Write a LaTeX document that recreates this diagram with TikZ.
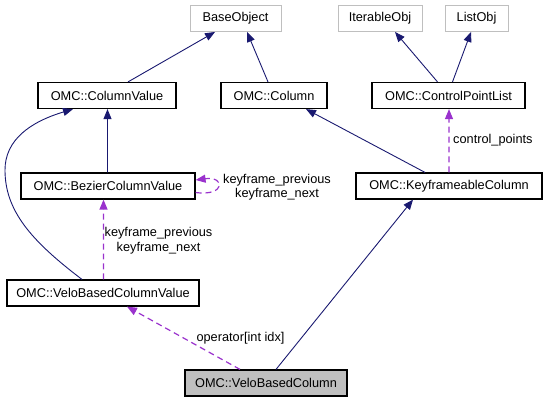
\documentclass[tikz,border=0pt]{standalone}
\usepackage{fontspec}
\setmainfont{Liberation Sans}
\usetikzlibrary{arrows.meta,calc}
\definecolor{navy}{RGB}{25,25,112}
\definecolor{orchid}{RGB}{154,50,205}
\definecolor{lgray}{RGB}{191,191,191}
\begin{document}
\begin{tikzpicture}[x=1bp,y=-1bp,
  every node/.style={font=\fontsize{12.8}{14.5}\selectfont},
  cls/.style={draw=black, line width=1.2pt, inner sep=0pt, minimum height=26bp, anchor=center},
  ext/.style={draw=lgray, line width=0.9pt, inner sep=0pt, minimum height=26bp, anchor=center},
  inh/.style={navy, line width=0.9pt, -{Triangle[length=10pt,width=8pt]}},
  use/.style={orchid, line width=1.2pt, dash pattern=on 6pt off 4pt, -{Triangle[length=10pt,width=8pt]}},
  lbl/.style={align=center, inner sep=0pt}]
\useasboundingbox (0,0) rectangle (547,402);
\node[ext, minimum width=91bp] (base) at (235.5,18.5) {BaseObject};
\node[ext, minimum width=84bp] (iter) at (380,18.5) {IterableObj};
\node[ext, minimum width=63bp] (list) at (476.5,18.5) {ListObj};
\node[cls, minimum width=138bp] (cv) at (107,95.5) {OMC::ColumnValue};
\node[cls, minimum width=106bp] (col) at (274,95.5) {OMC::Column};
\node[cls, minimum width=153bp] (cpl) at (448.5,95.5) {OMC::ControlPointList};
\node[cls, minimum width=174bp] (bez) at (108,186) {OMC::BezierColumnValue};
\node[cls, minimum width=186bp] (kc) at (449,186) {OMC::KeyframeableColumn};
\node[cls, minimum width=192bp] (vbcv) at (103,293) {OMC::VeloBasedColumnValue};
\node[cls, fill=lgray, minimum width=162bp] (vbc) at (266,383) {OMC::VeloBasedColumn};
% inheritance
\draw[inh] ($(cv.north)+(21,0)$) -- ($(base.south)+(-20.5,0)$);
\draw[inh] ($(col.north)+(-6,0)$) -- ($(base.south)+(11.5,0)$);
\draw[inh] ($(cpl.north)+(-11,0)$) -- ($(iter.south)+(15,0)$);
\draw[inh] ($(cpl.north)+(4,0)$) -- ($(list.south)+(-5.5,0)$);
\draw[inh] ($(bez.north)+(-0.5,0)$) -- ($(cv.south)+(0.5,0)$);
\draw[inh] ($(kc.north)+(-24,0)$) -- ($(col.south)+(32,0)$);
\draw[inh] ($(vbc.north)+(10,0)$) -- ($(kc.south)+(-36,0)$);
\draw[inh] ($(vbcv.north)+(-21,0)$) .. controls (30,240) and (5,210) .. (5,170)
  .. controls (5,140) and (30,122) .. ($(cv.south)+(-34,0)$);
% usage
\draw[use] ($(kc.north)+(0,0)$) -- ($(cpl.south)+(0.5,0)$);
\node[lbl, anchor=west] (lcp) at (453,140) {control\_points};
\draw[use] ($(bez.east)+(0,6.5)$) .. controls +(30,4) and +(30,-4) .. ($(bez.east)+(0,-6)$);
\node[lbl] (lkf1) at (277,187) {keyframe\_previous\\keyframe\_next};
\draw[use] ($(vbcv.north)+(0.5,0)$) -- ($(bez.south)+(-4.5,0)$);
\node[lbl] (lkf2) at (158.5,240.5) {keyframe\_previous\\keyframe\_next};
\draw[use] ($(vbc.north)+(-26,0)$) -- ($(vbcv.south)+(24,0)$);
\node[lbl] (lop) at (240.5,338) {operator[int idx]};
\end{tikzpicture}
\end{document}
